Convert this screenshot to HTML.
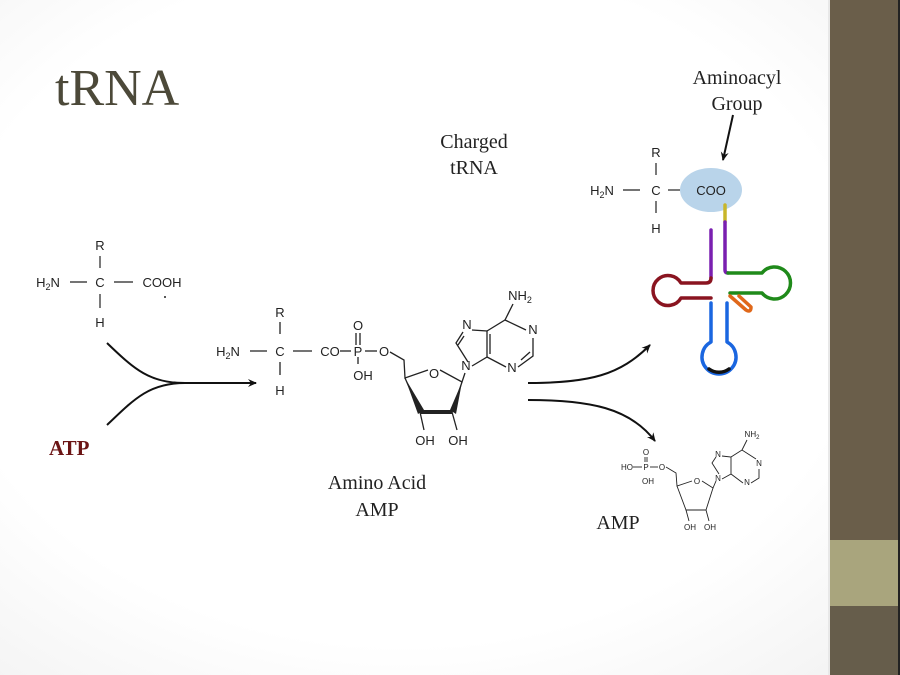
<!DOCTYPE html>
<html><head><meta charset="utf-8"><style>
html,body{margin:0;padding:0;width:900px;height:675px;overflow:hidden;}
body{background:radial-gradient(ellipse at 45% 45%,#ffffff 65%,#f1f1f1 100%);}
svg{position:absolute;left:0;top:0;}
.s{font-family:"Liberation Sans",sans-serif;font-size:13px;fill:#222;}
.m{font-family:"Liberation Serif",serif;font-size:20px;fill:#222;}
</style></head><body>
<svg width="900" height="675" viewBox="0 0 900 675">
<defs>
<marker id="ah" markerWidth="10" markerHeight="10" refX="8" refY="5" orient="auto" markerUnits="userSpaceOnUse">
<path d="M0,1 L9,5 L0,9 L3,5 Z" fill="#111"/></marker>
</defs>
<rect x="830" y="0" width="70" height="675" fill="#6a5e4a"/>
<rect x="830" y="540" width="70" height="66" fill="#a9a57d"/>
<rect x="830" y="606" width="70" height="69" fill="#665d4b"/>
<rect x="828" y="0" width="2" height="675" fill="#e8e8e8"/>
<rect x="898" y="0" width="2" height="675" fill="#222"/>

<text x="55" y="105" font-family="Liberation Serif,serif" font-size="52" fill="#4c4939">tRNA</text>

<g class="s" text-anchor="middle">
<text x="100" y="250">R</text>
<text x="100" y="287">C</text>
<text x="100" y="327">H</text>
<text x="48" y="287">H<tspan font-size="9" dy="3">2</tspan><tspan dy="-3">N</tspan></text>
<text x="162" y="287">COOH</text>
</g>
<g stroke="#222" stroke-width="1.2">
<line x1="100" y1="256" x2="100" y2="268"/><line x1="100" y1="294" x2="100" y2="308"/>
<line x1="70" y1="282" x2="87" y2="282"/><line x1="114" y1="282" x2="133" y2="282"/>
</g>
<circle cx="165" cy="297" r="1" fill="#222"/>
<g fill="none" stroke="#111" stroke-width="2">
<path d="M107,343 C135,370 150,383 185,383 L256,383" marker-end="url(#ah)"/>
<path d="M107,425 C135,398 150,383 185,383"/>
</g>
<text x="49" y="455" font-family="Liberation Serif,serif" font-size="21" font-weight="bold" fill="#6b1414">ATP</text>

<g class="s" text-anchor="middle">
<text x="280" y="317">R</text>
<text x="280" y="356">C</text>
<text x="280" y="395">H</text>
<text x="228" y="356">H<tspan font-size="9" dy="3">2</tspan><tspan dy="-3">N</tspan></text>
<text x="330" y="356">CO</text>
<text x="358" y="356">P</text>
<text x="358" y="330">O</text>
<text x="363" y="380">OH</text>
<text x="384" y="356">O</text>
<text x="434" y="378">O</text>
<text x="466" y="370">N</text>
<text x="467" y="329">N</text>
<text x="533" y="334">N</text>
<text x="512" y="372">N</text>
<text x="520" y="300">NH<tspan font-size="9" dy="3">2</tspan></text>
<text x="425" y="445">OH</text>
<text x="458" y="445">OH</text>
</g>
<g stroke="#222" stroke-width="1.3" fill="none">
<line x1="280" y1="322" x2="280" y2="334"/><line x1="280" y1="362" x2="280" y2="375"/>
<line x1="250" y1="351" x2="267" y2="351"/><line x1="293" y1="351" x2="312" y2="351"/>
<line x1="340" y1="351" x2="351" y2="351"/><line x1="365" y1="351" x2="377" y2="351"/>
<line x1="356" y1="333" x2="356" y2="345"/><line x1="360" y1="333" x2="360" y2="345"/>
<line x1="358" y1="357" x2="358" y2="364"/>
<path d="M390,352 L404,360 L405,378 L428,370"/>
<path d="M440,370 L462,382 L465,373"/>
<path d="M405,378 L420,412 L452,412 L462,382"/>
<line x1="420" y1="412" x2="424" y2="430"/><line x1="452" y1="412" x2="457" y2="430"/>
<path d="M468,362 L456,343 L463,332"/>
<path d="M472,330 L487,331 L487,357 L472,366"/>
<path d="M487,331 L505,320 L526,330"/>
<path d="M533,338 L533,356 L518,367"/>
<path d="M506,367 L487,357"/>
<line x1="505" y1="320" x2="513" y2="304"/>
<line x1="490" y1="334" x2="490" y2="354"/>
<line x1="458" y1="345" x2="464" y2="336"/>
<line x1="521" y1="360" x2="530" y2="352"/>
</g>
<path d="M405,378 L418,414 L424,410 Z" fill="#222"/>
<path d="M462,382 L450,410 L456,414 Z" fill="#222"/>
<rect x="420" y="410" width="32" height="4" fill="#222"/>

<text class="m" x="377" y="489" text-anchor="middle">Amino Acid</text>
<text class="m" x="377" y="516" text-anchor="middle">AMP</text>

<g fill="none" stroke="#111" stroke-width="2">
<path d="M528,383 C590,383 620,375 650,345" marker-end="url(#ah)"/>
<path d="M528,400 C590,400 630,408 655,441" marker-end="url(#ah)"/>
<path d="M733,115 L723,160" marker-end="url(#ah)"/>
</g>

<text class="m" x="474" y="148" text-anchor="middle">Charged</text>
<text class="m" x="474" y="174" text-anchor="middle">tRNA</text>
<text class="m" x="737" y="84" text-anchor="middle">Aminoacyl</text>
<text class="m" x="737" y="110" text-anchor="middle">Group</text>

<ellipse cx="711" cy="190" rx="31" ry="22" fill="#b9d4ea"/>
<g class="s" text-anchor="middle">
<text x="656" y="157">R</text>
<text x="656" y="195">C</text>
<text x="656" y="233">H</text>
<text x="602" y="195">H<tspan font-size="9" dy="3">2</tspan><tspan dy="-3">N</tspan></text>
<text x="711" y="195">COO</text>
</g>
<g stroke="#222" stroke-width="1.2">
<line x1="656" y1="163" x2="656" y2="175"/><line x1="656" y1="201" x2="656" y2="213"/>
<line x1="623" y1="190" x2="640" y2="190"/><line x1="668" y1="190" x2="680" y2="190"/>
</g>
<g fill="none" stroke-width="3.5" stroke-linecap="round" stroke-linejoin="round">
<line x1="725" y1="205" x2="725" y2="222" stroke="#c8b62a"/>
<path d="M725,222 L725,270 Q725,273 728,273" stroke="#7a1fb0"/>
<path d="M711,230 L711,278" stroke="#7a1fb0"/>
<path d="M728,273 L762,273 A16,16 0 1 1 762,293 L730,293" stroke="#1f8a1a"/>
<path d="M730,296 L746,310 Q751,313 751,307 L739,296" stroke="#e0681a"/>
<path d="M711,278 Q711,283 706,283 L681,283 A15,15 0 1 0 681,298 L711,298" stroke="#8a1420"/>
<path d="M711,303 L711,342 A17,17 0 1 0 727,342 L727,303" stroke="#1a66e0"/>
<path d="M709,369 A17,17 0 0 0 729,369" stroke="#111"/>
</g>

<g font-family="Liberation Sans,sans-serif" font-size="8" fill="#222" text-anchor="middle">
<text x="627" y="470">HO</text>
<text x="646" y="470">P</text>
<text x="646" y="455">O</text>
<text x="648" y="484">OH</text>
<text x="662" y="470">O</text>
<text x="697" y="484">O</text>
<text x="718" y="481">N</text>
<text x="718" y="457">N</text>
<text x="759" y="466">N</text>
<text x="747" y="485">N</text>
<text x="752" y="437">NH<tspan font-size="6" dy="2">2</tspan></text>
<text x="690" y="530">OH</text>
<text x="710" y="530">OH</text>
</g>
<g stroke="#222" stroke-width="0.9" fill="none">
<line x1="633" y1="467" x2="642" y2="467"/><line x1="650" y1="467" x2="658" y2="467"/>
<line x1="645" y1="457" x2="645" y2="462"/><line x1="647" y1="457" x2="647" y2="462"/>
<path d="M666,467 L676,473 L677,486 L692,481"/>
<path d="M702,481 L713,488 L716,481"/>
<path d="M677,486 L686,510 L706,510 L713,488"/>
<line x1="686" y1="510" x2="689" y2="521"/><line x1="706" y1="510" x2="709" y2="521"/>
<path d="M719,474 L712,463 L716,457"/>
<path d="M722,456 L731,457 L731,474 L722,479"/>
<path d="M731,457 L742,450 L756,459"/>
<path d="M759,469 L759,478 L751,483"/>
<path d="M743,483 L731,474"/>
<line x1="742" y1="450" x2="747" y2="440"/>
</g>
<text class="m" x="618" y="529" text-anchor="middle">AMP</text>
</svg>
</body></html>
